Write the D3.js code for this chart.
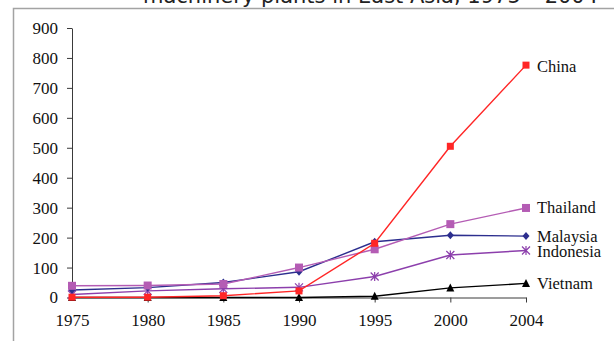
<!DOCTYPE html>
<html>
<head>
<meta charset="utf-8">
<script src="https://cdn.jsdelivr.net/npm/d3@7"></script>
<style>
  html, body { margin: 0; padding: 0; background: #fff; }
  svg { display: block; }
</style>
</head>
<body>
<svg id="chart" width="614" height="341"></svg>
<script>
// Machinery plants in East Asia, 1975–2004
const years = ["1975", "1980", "1985", "1990", "1995", "2000", "2004"];
const yTicks = [0, 100, 200, 300, 400, 500, 600, 700, 800, 900];

const china     = [1, 1, 6, 22, 181, 505, 776];
const thailand  = [39, 40, 45, 100, 161, 245, 299];
const malaysia  = [25, 33, 50, 86, 186, 208, 205];
const indonesia = [10, 22, 29, 34, 70, 142, 157];
const vietnam   = [0, 0, 0, 0, 4, 32, 47];

const countries = ["Vietnam", "Indonesia", "Malaysia", "Thailand", "China"];
const seriesValues = [vietnam, indonesia, malaysia, thailand, china];

const titleText = "machinery plants in East Asia, 1975 \u2013 2004";

// drawing styles per series
const styles = {
  China:     { color: "#ff2626", marker: "square",   size: 7, labelY: 66 },
  Thailand:  { color: "#b45cb4", marker: "square",   size: 8, labelY: 207 },
  Malaysia:  { color: "#2c2e8e", marker: "diamond",  size: 7, labelY: 236 },
  Indonesia: { color: "#8c3fac", marker: "asterisk", size: 8, labelY: 251 },
  Vietnam:   { color: "#000000", marker: "triangle", size: 8, labelY: 283 }
};

const svg = d3.select("#chart");
const serif = "'Liberation Serif', 'Times New Roman', serif";

// outer frame
svg.append("rect")
  .attr("x", 13.5).attr("y", 8.5)
  .attr("width", 700).attr("height", 400)
  .attr("fill", "none")
  .attr("stroke", "#a3a3a3")
  .attr("stroke-width", 1.5);

// title (runs off the top edge)
svg.append("text")
  .attr("x", 143).attr("y", 2.5)
  .attr("font-family", "'DejaVu Sans', Verdana, sans-serif")
  .attr("font-size", 21)
  .attr("fill", "#222")
  .text(titleText);

const x = d3.scalePoint().domain(years).range([72, 526]);
const y = d3.scaleLinear().domain([0, 900]).range([297.5, 28]);

// y axis
const yAxis = svg.append("g")
  .attr("transform", "translate(72,0)")
  .call(d3.axisLeft(y).tickValues(yTicks).tickSize(5).tickSizeOuter(0).tickPadding(9));
// x axis
const xAxis = svg.append("g")
  .attr("transform", `translate(0,${y(0)})`)
  .call(d3.axisBottom(x).tickSize(5).tickSizeOuter(0).tickPadding(11));

[yAxis, xAxis].forEach(g => {
  g.selectAll("path, line").attr("stroke", "#3a3a3a").attr("stroke-width", 1);
  g.selectAll(".tick text")
    .style("font-family", serif)
    .style("font-size", "17px")
    .style("fill", "#111");
});
xAxis.selectAll(".tick").filter(d => d === years[0]).select("line").remove();

const line = d3.line()
  .x((d, i) => x(years[i]))
  .y(d => y(d));

function drawMarker(g, type, s, color) {
  const h = s / 2;
  if (type === "square") {
    g.append("rect").attr("x", -h).attr("y", -h).attr("width", s).attr("height", s).attr("fill", color);
  } else if (type === "diamond") {
    g.append("path").attr("d", `M0,${-h - 0.5}L${h},0L0,${h + 0.5}L${-h},0Z`).attr("fill", color);
  } else if (type === "triangle") {
    g.append("path").attr("d", `M0,${-h - 0.5}L${h},${h - 0.5}L${-h},${h - 0.5}Z`).attr("fill", color);
  } else if (type === "asterisk") {
    g.append("path")
      .attr("d", `M${-h},${-h}L${h},${h}M${-h},${h}L${h},${-h}M0,${-h - 0.5}L0,${h + 0.5}`)
      .attr("stroke", color).attr("stroke-width", 1.2).attr("fill", "none");
  }
}

countries.forEach((name, k) => {
  const vals = seriesValues[k];
  const st = styles[name];
  const g = svg.append("g");
  g.append("path")
    .attr("d", line(vals))
    .attr("fill", "none")
    .attr("stroke", st.color)
    .attr("stroke-width", 1.4);
  vals.forEach((v, i) => {
    const m = g.append("g").attr("transform", `translate(${x(years[i])},${y(v)})`);
    drawMarker(m, st.marker, st.size, st.color);
  });
  svg.append("text")
    .attr("x", 537)
    .attr("y", st.labelY)
    .attr("dy", "0.35em")
    .attr("font-family", serif)
    .attr("font-size", 16.5)
    .attr("fill", "#111")
    .text(name);
});
</script>
</body>
</html>
